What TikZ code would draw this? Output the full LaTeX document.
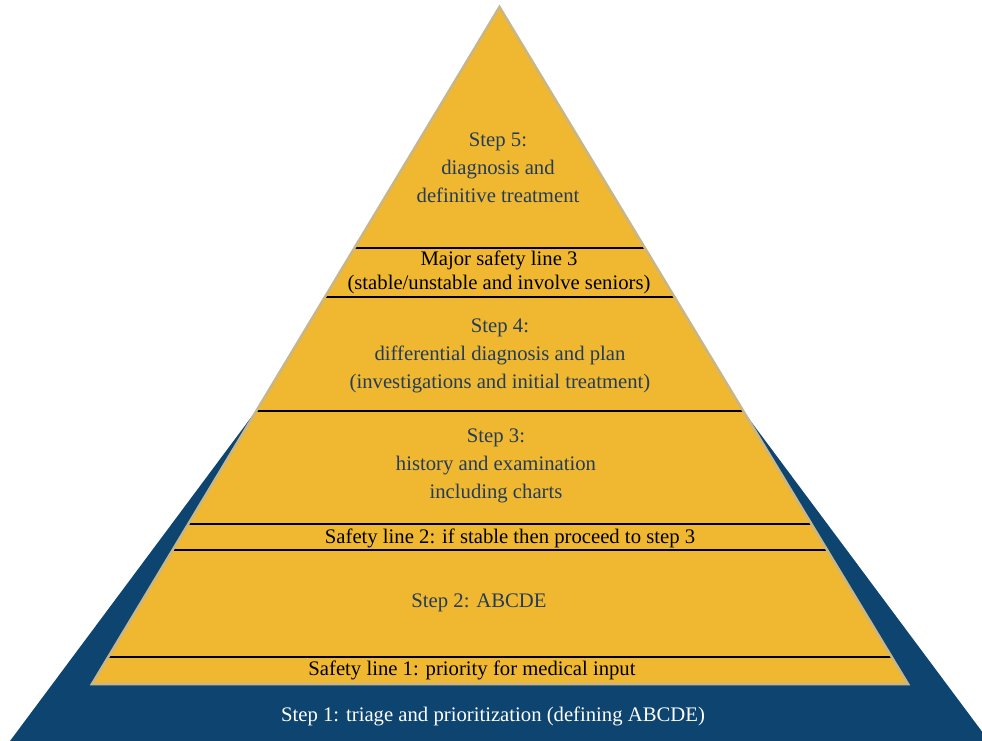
\documentclass[tikz,border=0pt]{standalone}
\usepackage{fontspec}
\setmainfont{Liberation Serif}
\usetikzlibrary{calc}
\definecolor{pyellow}{RGB}{239,184,48}
\definecolor{pblue}{RGB}{14,68,112}
\definecolor{pedge}{RGB}{200,182,135}
\definecolor{steptext}{RGB}{35,60,90}
\tikzset{
  sepline/.style={draw=black,line width=2.6pt},
  steplabel/.style={text=steptext,align=center,font=\fontsize{20.7}{28}\selectfont,inner sep=0pt},
  safelabel/.style={text=black,align=center,font=\fontsize{20.7}{24}\selectfont,inner sep=0pt},
  baselabel/.style={text=white,align=center,font=\fontsize{20.7}{24}\selectfont,inner sep=0pt}
}
\begin{document}
\begin{tikzpicture}[x=1pt,y=-1pt]
\useasboundingbox (0,0) rectangle (982,741);
\clip (0,0) rectangle (982,741);
% blue base triangle
\coordinate (bapex) at (499.5,84);
\coordinate (bbl) at (10,741);
\coordinate (bbr) at (989,741);
\fill[pblue] (bapex) -- (bbl) -- (bbr) -- cycle;
% yellow pyramid
\coordinate (apex) at (499.5,7);
\coordinate (bl) at (92,684);
\coordinate (br) at (908,684);
\fill[pyellow] (apex) -- (bl) -- (br) -- cycle;
% separator lines
\foreach \yy/\n in {248/a,297/b,411/c,524/d,550/e,657/f}{
  \coordinate (l\n) at ($(apex)!{(\yy-7)/677}!(bl)$);
  \coordinate (r\n) at ($(apex)!{(\yy-7)/677}!(br)$);
  \draw[sepline] (l\n) -- (r\n);
}
\draw[pedge,line width=2.5pt,line join=miter] (apex) -- (bl) -- (br) -- cycle;
% labels
\node[steplabel] (s5) at (498,168) {Step 5:\\diagnosis and\\definitive treatment};
\node[safelabel] (m3) at (499,272) {Major safety line 3\\(stable/unstable and involve seniors)};
\node[steplabel] (s4) at (500,356) {Step 4:\\differential diagnosis and plan\\(investigations and initial treatment)};
\node[steplabel] (s3) at (496,466) {Step 3:\\history and examination\\including charts};
\node[safelabel] (sl2) at (510,538) {Safety line 2: if stable then proceed to step 3};
\node[steplabel] (s2) at (479,603) {Step 2: ABCDE};
\node[safelabel] (sl1) at (472,670) {Safety line 1: priority for medical input};
\node[baselabel] (s1) at (493,716) {Step 1: triage and prioritization (defining ABCDE)};
\end{tikzpicture}
\end{document}
